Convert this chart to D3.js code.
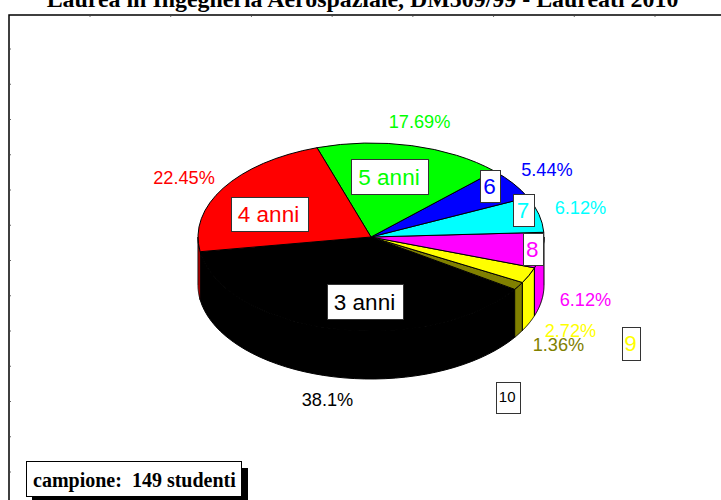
<!DOCTYPE html>
<html><head><meta charset="utf-8">
<script src="https://cdn.jsdelivr.net/npm/d3@7/dist/d3.min.js"></script>
<style>html,body{margin:0;padding:0;background:#fff;overflow:hidden}svg{display:block}</style>
</head><body><svg id="c" width="721" height="500"></svg>
<script>
const titleText = "Laurea in Ingegneria Aerospaziale, DM509/99 - Laureati 2010";
const sampleText = "campione:  149 studenti";
const categories = ["3 anni","10","9","8","7","6","5 anni","4 anni"];
const values = [38.1,1.36,2.72,6.12,6.12,5.44,17.69,22.45];
const valueLabels = ["38.1%","1.36%","2.72%","6.12%","6.12%","5.44%","17.69%","22.45%"];
const colors = ["#000000","#808000","#ffff00","#ff00ff","#00ffff","#0000ff","#00ff00","#ff0000"];
const labelColors = ["#000000","#000000","#ffff00","#ff00ff","#00ffff","#0000ff","#00ff00","#ff0000"];
const catFont = [22.5,15,22.5,22.5,22.5,22.5,22.5,22.5];

const cx=371, cy=237, rx=173, ry=94, depth=48;
const rad=d=>d*Math.PI/180;
const svg=d3.select("#c");
const sans="Liberation Sans", serif="Liberation Serif";

// frame
const frame={l:9,t:15,r:760,b:530};
svg.append("rect").attr("x",frame.l).attr("y",frame.t).attr("width",frame.r-frame.l).attr("height",frame.b-frame.t)
  .attr("fill","none").attr("stroke","#000").attr("stroke-width",1.5);
const xs=d3.scaleLinear().domain([0,7]).range([90,655]);
const ys=d3.scaleLinear().domain([0,12]).range([49,472]);
svg.append("g").selectAll("line").data(d3.range(0,8)).join("line")
  .attr("x1",d=>xs(d)).attr("x2",d=>xs(d)).attr("y1",15).attr("y2",17).attr("stroke","#444").attr("stroke-width",.8);
svg.append("g").selectAll("line").data(d3.range(0,13)).join("line")
  .attr("y1",d=>ys(d)).attr("y2",d=>ys(d)).attr("x1",9).attr("x2",11).attr("stroke","#444").attr("stroke-width",.8);

svg.append("text").attr("x",362.5).attr("y",7).attr("text-anchor","middle")
  .attr("font-family",serif).attr("font-weight","bold").attr("font-size",23.9).text(titleText);

// pie angles (d3 angle: 0 = north, clockwise). Starts 9deg below west on screen, runs counter-clockwise.
const start=rad(171+90);
const pie=d3.pie().sort(null).value(d=>d).startAngle(start).endAngle(start-2*Math.PI);
const arcs=pie(values);
const px=a=>cx+rx*Math.sin(a), py=a=>cy-ry*Math.cos(a);

// side wall, front half only
const sides=svg.append("g");
arcs.forEach((d,i)=>{
  [0,2*Math.PI].forEach(shift=>{
    const a0=Math.max(d.endAngle+shift,rad(90)), a1=Math.min(d.startAngle+shift,rad(270));
    if(a1<=a0) return;
    const pts=d3.range(0,41).map(k=>a0+(a1-a0)*k/40);
    const top=pts.map(a=>[px(a),py(a)]), bot=pts.slice().reverse().map(a=>[px(a),py(a)+depth]);
    sides.append("path").attr("d",d3.line()(top.concat(bot))+"Z")
      .attr("fill",colors[i]).attr("stroke","#000").attr("stroke-width",1).attr("stroke-linejoin","round");
  });
});

// top face
const arcGen=d3.arc().innerRadius(0).outerRadius(rx);
svg.append("g").attr("transform",`translate(${cx},${cy}) scale(1,${ry/rx})`)
 .selectAll("path").data(arcs).join("path")
 .attr("d",arcGen).attr("fill",(d,i)=>colors[i]).attr("stroke","#000").attr("stroke-width",1)
 .attr("vector-effect","non-scaling-stroke");

// category boxes: centre x, centre y, w, h
const catBox=[[365,301.5,76,35],[507.7,397,24,31],[631,343,18,33],[532.7,249,20,32],[523.5,210,21,32],[490,186,20,32],[389.5,176.5,77,35],[269,214,77,34]];
const boxes=svg.append("g");
categories.forEach((c,i)=>{
  const [x,y,w,h]=catBox[i];
  boxes.append("rect").attr("x",Math.round(x-w/2)+.5).attr("y",Math.round(y-h/2)+.5).attr("width",w).attr("height",h)
    .attr("fill","#fff").attr("stroke","#333").attr("stroke-width",1);
  boxes.append("text").attr("x",x-.5).attr("y",y+catFont[i]*0.36).attr("text-anchor","middle")
    .attr("font-family",sans).attr("font-size",catFont[i]).attr("fill",labelColors[i]).text(c);
});

// value labels
const valPos=[[327.5,400],[558.5,345],[570.5,331],[585.5,300],[580.5,208],[547,170],[419.5,122],[184,178]];
svg.append("g").selectAll("text").data(valueLabels).join("text")
  .attr("x",(d,i)=>valPos[i][0]).attr("y",(d,i)=>valPos[i][1]+6)
  .attr("text-anchor","middle").attr("font-family",sans).attr("font-size",18.2)
  .attr("fill",(d,i)=>colors[i]).text(d=>d);

// sample box
svg.append("rect").attr("x",32).attr("y",468).attr("width",216).attr("height",32).attr("fill","#000");
svg.append("rect").attr("x",26.5).attr("y",461.5).attr("width",215).attr("height",35).attr("fill","#fff").attr("stroke","#000").attr("stroke-width",1);
svg.append("text").attr("x",33).attr("y",487).attr("font-family",serif).attr("font-weight","bold").attr("font-size",20)
  .style("white-space","pre").text(sampleText);
</script></body></html>
